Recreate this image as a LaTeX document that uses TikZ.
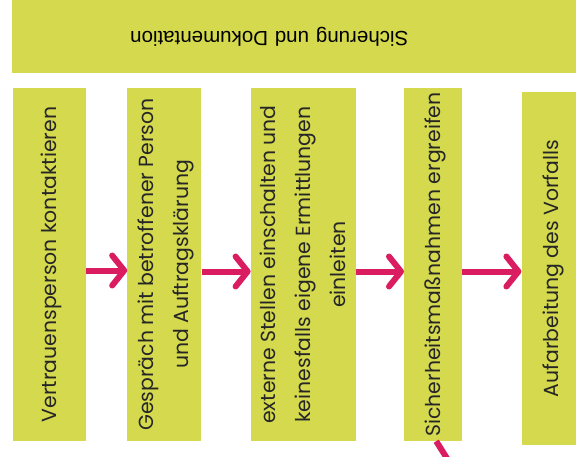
\documentclass[tikz,border=0pt]{standalone}
\usepackage{fontspec}
\setmainfont{Poppins}
\newfontfamily\bannerfont{Liberation Sans}
\usetikzlibrary{arrows.meta,positioning}

\definecolor{boxgreen}{RGB}{212,217,77}
\definecolor{flowpink}{RGB}{218,28,96}

\newcommand{\uptext}[1]{\rotatebox{90}{\begin{tabular}{@{}c@{}}#1\end{tabular}}}

\tikzset{
  stepbox/.style={fill=boxgreen, inner sep=0pt, minimum height=353pt,
    text=black!85, font=\fontsize{20.4}{35}\selectfont},
  flow/.style={draw=flowpink, line width=6pt,
    -{Straight Barb[length=12pt,width=30pt,round]}}
}

\begin{document}
\begin{tikzpicture}[x=1pt,y=-1pt]
  \useasboundingbox (0,0) rectangle (576,456);
  \clip (0,0) rectangle (576,456);

  % banner across the top
  \node[fill=boxgreen, inner sep=0pt, minimum height=73pt, text width=570pt,
        align=left, anchor=north west, font=\bannerfont\fontsize{20.5}{24}\selectfont]
        (top) at (12,0) {\hspace*{118pt}\rotatebox[origin=c]{180}{Sicherung und Dokumentation}};

  % the steps
  \node[stepbox, minimum width=73pt]  (b1) at (49.5,264.5) {\uptext{Vertrauensperson kontaktieren}};
  \node[stepbox, minimum width=74pt]  (b2) [right=41pt of b1] {\uptext{Gespräch mit betroffener Person\\und Auftragsklärung}};
  \node[stepbox, minimum width=105pt] (b3) [right=49pt of b2] {\uptext{externe Stellen einschalten und\\keinesfalls eigene Ermittlungen\\einleiten}};
  \node[stepbox, minimum width=58pt]  (b4) [right=48pt of b3] {\uptext{Sicherheitsmaßnahmen ergreifen}};
  \node[stepbox, minimum width=60pt]  (b5) [right=59pt of b4, yshift=-4pt] {\uptext{Aufarbeitung des Vorfalls}};

  \coordinate (exit) at (448,460);

  \draw[flow] ([yshift=-6pt]b1.east) -- ([yshift=-6pt]b2.west);
  \draw[flow] ([yshift=-7pt]b2.east) -- ([yshift=-7pt]b3.west);
  \draw[flow] ([yshift=-7pt]b3.east) -- ([yshift=-7pt]b4.west);
  \draw[flow] ([yshift=-7pt]b4.east) -- ([yshift=-3pt]b5.west);
  \draw[flow, -] ([xshift=3pt]b4.south) -- (exit);
\end{tikzpicture}
\end{document}
